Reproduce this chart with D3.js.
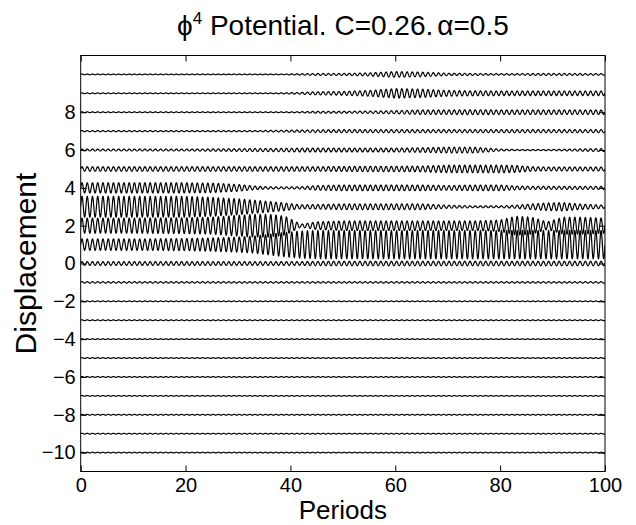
<!DOCTYPE html>
<html>
<head>
<meta charset="utf-8">
<script src="https://cdn.jsdelivr.net/npm/d3@7"></script>
<style>
  html, body { margin: 0; padding: 0; background: #fff; }
  svg { display: block; font-family: "Liberation Sans", Arial, Helvetica, sans-serif; }
</style>
</head>
<body>
<svg id="chart" width="636" height="525"></svg>
<script>
// ---- data ----
const titleText = "Potential. C=0.26.";
const xLabel = "Periods";
const yLabel = "Displacement";
const xTicks = [0, 20, 40, 60, 80, 100];
const yTicks = [-10, -8, -6, -4, -2, 0, 2, 4, 6, 8];
const xDomain = [0, 100];
const yDomain = [-11, 11];
const cyclesPerPeriod = 1;

// times (periods) at which the oscillation envelope of each site was read
const envT = [0, 10, 20, 25, 30, 33, 36, 39, 42, 45, 50, 55, 60, 65, 70, 75, 80, 83, 86, 89, 92, 95, 100];
// envelope amplitude (displacement units) of each site, offset = site index
const siteOffsets = [10, 9, 8, 7, 6, 5, 4, 3, 2, 1, 0, -1, -2, -3, -4, -5, -6, -7, -8, -9, -10];
const amp10 = [0.02,0.02,0.02,0.02,0.02,0.02,0.02,0.02,0.04,0.05,0.05,0.08,0.15,0.12,0.06,0.05,0.04,0.04,0.05,0.05,0.05,0.05,0.04];
const amp9  = [0.02,0.02,0.02,0.02,0.02,0.02,0.02,0.03,0.05,0.08,0.10,0.15,0.25,0.22,0.15,0.13,0.12,0.12,0.12,0.12,0.12,0.12,0.12];
const amp8  = [0.02,0.02,0.02,0.02,0.02,0.02,0.02,0.02,0.03,0.05,0.05,0.06,0.08,0.12,0.12,0.13,0.12,0.12,0.12,0.12,0.12,0.12,0.12];
const amp7  = [0.03,0.03,0.03,0.03,0.03,0.03,0.04,0.05,0.06,0.07,0.08,0.08,0.08,0.08,0.08,0.08,0.08,0.08,0.08,0.08,0.08,0.08,0.08];
const amp6  = [0.05,0.05,0.05,0.06,0.07,0.08,0.08,0.09,0.10,0.10,0.10,0.10,0.10,0.12,0.15,0.15,0.05,0.03,0.03,0.03,0.04,0.06,0.08];
const amp5  = [0.12,0.12,0.12,0.12,0.12,0.12,0.12,0.12,0.12,0.12,0.13,0.14,0.14,0.15,0.20,0.20,0.20,0.18,0.12,0.10,0.10,0.10,0.10];
const amp4  = [0.27,0.27,0.27,0.25,0.18,0.10,0.06,0.05,0.06,0.12,0.15,0.15,0.15,0.15,0.12,0.15,0.15,0.10,0.08,0.08,0.08,0.08,0.08];
const amp3  = [0.55,0.55,0.55,0.50,0.42,0.35,0.28,0.20,0.10,0.12,0.15,0.15,0.15,0.15,0.08,0.05,0.05,0.08,0.15,0.20,0.22,0.15,0.08];
const amp2  = [0.40,0.40,0.42,0.45,0.55,0.60,0.60,0.50,0.08,0.20,0.25,0.25,0.25,0.25,0.25,0.25,0.30,0.50,0.45,0.20,0.45,0.45,0.40];
const amp1  = [0.30,0.30,0.32,0.35,0.40,0.45,0.55,0.65,0.72,0.75,0.75,0.75,0.75,0.75,0.75,0.75,0.75,0.75,0.75,0.75,0.75,0.75,0.75];
const amp0  = [0.10,0.10,0.10,0.10,0.10,0.10,0.10,0.10,0.10,0.11,0.12,0.12,0.12,0.12,0.12,0.12,0.12,0.12,0.12,0.12,0.12,0.12,0.12];
const ampM1 = [0.04,0.04,0.04,0.04,0.04,0.04,0.04,0.04,0.04,0.04,0.04,0.04,0.04,0.04,0.04,0.04,0.04,0.04,0.04,0.04,0.04,0.04,0.04];
const ampQuiet = [0.02,0.02,0.02,0.02,0.02,0.02,0.02,0.02,0.02,0.02,0.02,0.02,0.02,0.02,0.02,0.02,0.02,0.02,0.02,0.02,0.02,0.02,0.02];
const siteAmps = [amp10, amp9, amp8, amp7, amp6, amp5, amp4, amp3, amp2, amp1, amp0, ampM1,
                  ampQuiet, ampQuiet, ampQuiet, ampQuiet, ampQuiet, ampQuiet, ampQuiet, ampQuiet, ampQuiet];

// ---- layout ----
const W = 636, H = 525;
const plot = { left: 80.7, right: 605, top: 55.5, bottom: 471.5 };
const svg = d3.select("#chart");

const x = d3.scaleLinear().domain(xDomain).range([plot.left, plot.right]);
const y = d3.scaleLinear().domain(yDomain).range([plot.bottom, plot.top]);

// traces
const samplesPerPeriod = 20;
const tGrid = d3.range(0, xDomain[1] * samplesPerPeriod + 1).map(i => i / samplesPerPeriod);
const line = d3.line().x(d => x(d[0])).y(d => y(d[1]));

svg.append("clipPath").attr("id", "clip").append("rect")
  .attr("x", plot.left).attr("y", plot.top)
  .attr("width", plot.right - plot.left).attr("height", plot.bottom - plot.top);
const traces = svg.append("g").attr("clip-path", "url(#clip)");

siteOffsets.forEach((off, i) => {
  const env = d3.scaleLinear().domain(envT).range(siteAmps[i]);
  const pts = tGrid.map(t => [t, off + env(t) * Math.sin(2 * Math.PI * cyclesPerPeriod * t)]);
  traces.append("path")
    .attr("d", line(pts))
    .attr("fill", "none")
    .attr("stroke", "#000")
    .attr("stroke-width", 1.2)
    .attr("stroke-linejoin", "round");
});

// axes (ticks point inward, on all four sides)
const tickLen = 6;
const fs = 20;
const gx = svg.append("g").attr("transform", `translate(0,${plot.bottom})`)
  .call(d3.axisBottom(x).tickValues(xTicks).tickSizeInner(-tickLen).tickSizeOuter(0).tickPadding(6));
const gxt = svg.append("g").attr("transform", `translate(0,${plot.top})`)
  .call(d3.axisTop(x).tickValues(xTicks).tickSizeInner(-tickLen).tickSizeOuter(0).tickFormat(""));
const gy = svg.append("g").attr("transform", `translate(${plot.left},0)`)
  .call(d3.axisLeft(y).tickValues(yTicks).tickSizeInner(-tickLen).tickSizeOuter(0).tickPadding(5)
    .tickFormat(d => d < 0 ? "\u2212" + Math.abs(d) : d));
const gyr = svg.append("g").attr("transform", `translate(${plot.right},0)`)
  .call(d3.axisRight(y).tickValues(yTicks).tickSizeInner(-tickLen).tickSizeOuter(0).tickFormat(""));

[gx, gxt, gy, gyr].forEach(g => {
  g.select(".domain").remove();
  g.selectAll(".tick line").attr("stroke", "#000").attr("stroke-width", 1);
  g.selectAll(".tick text").attr("fill", "#000").attr("font-size", fs)
    .attr("font-family", "Liberation Sans, Arial, sans-serif");
});

svg.append("rect")
  .attr("x", plot.left).attr("y", plot.top)
  .attr("width", plot.right - plot.left).attr("height", plot.bottom - plot.top)
  .attr("fill", "none").attr("stroke", "#000").attr("stroke-width", 1);

// title
const cx = (plot.left + plot.right) / 2;
const title = svg.append("text")
  .attr("x", cx).attr("y", 35)
  .attr("text-anchor", "middle")
  .attr("font-size", 28)
  .attr("fill", "#000");
title.append("tspan").text("\u03D5");
title.append("tspan").attr("font-size", 17).attr("dy", -11).text("4");
title.append("tspan").attr("dy", 11).text(" " + titleText);
title.append("tspan").attr("dx", 4).text("\u03B1=0.5");

// axis labels
svg.append("text")
  .attr("x", cx).attr("y", 519)
  .attr("text-anchor", "middle")
  .attr("font-size", 26)
  .attr("fill", "#000")
  .text(xLabel);

svg.append("text")
  .attr("transform", `translate(36,${(plot.top + plot.bottom) / 2}) rotate(-90)`)
  .attr("text-anchor", "middle")
  .attr("font-size", 30)
  .attr("fill", "#000")
  .text(yLabel);
</script>
</body>
</html>
